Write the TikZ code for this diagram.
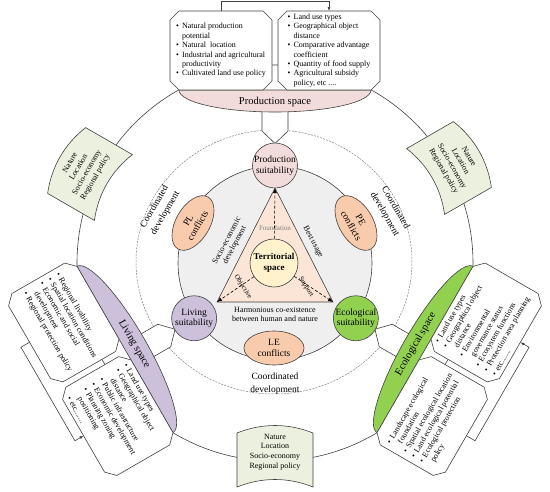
\documentclass[tikz,border=0pt]{standalone}
\usepackage{fontspec}
\setmainfont{Liberation Serif}
\usetikzlibrary{shapes.geometric,arrows.meta,calc}
\definecolor{lc}{HTML}{404040}
\definecolor{prodc}{HTML}{F2DCDB}
\definecolor{livc}{HTML}{CCC0DA}
\definecolor{ecoc}{HTML}{92D050}
\definecolor{confc}{HTML}{F8CBAD}
\definecolor{tric}{HTML}{FBE5D6}
\definecolor{terrc}{HTML}{FFF2CC}
\definecolor{grayc}{HTML}{EFEFEF}
\definecolor{paperc}{HTML}{EBF1DE}
\newcommand\octbox[4]{(#1+9,#2)--(#3-9,#2)--(#3,#2+9)--(#3,#4-9)--(#3-9,#4)--(#1+9,#4)--(#1,#4-9)--(#1,#2+9)--cycle}
\newcommand\paperpath{(-38,-27) -- (-38,27) .. controls (-13,37) and (13,37) .. (38,27) -- (38,-27) .. controls (13,-17) and (-13,-17) .. (-38,-27) -- cycle}
\newcommand\bu{\makebox[6pt][l]{\textbullet}}
\newcommand\hi{\hspace*{6pt}}
\begin{document}
\begin{tikzpicture}[x=1pt,y=1pt,
 ln/.style={draw=lc,line width=0.6pt},
 arr/.style={-{Latex[length=4pt,width=3pt]}},
 boxtxt/.style={align=left,font=\fontsize{8}{9.4}\selectfont,inner sep=0pt},
 spacetxt/.style={font=\fontsize{10.5}{12}\selectfont,inner sep=0pt},
 papertxt/.style={align=center,font=\fontsize{8}{9.7}\selectfont,inner sep=0pt},
 suit/.style={circle,draw=lc,line width=0.6pt,minimum size=45pt,inner sep=0pt},
 suittxt/.style={align=center,font=\fontsize{9.5}{10.5}\selectfont,inner sep=0pt},
 conf/.style={ellipse,draw=lc,line width=0.6pt,fill=confc,minimum width=60pt,minimum height=34pt,inner sep=0pt,align=center,font=\fontsize{9.5}{11}\selectfont},
 coordtxt/.style={align=center,font=\fontsize{9.5}{12.5}\selectfont,inner sep=0pt},
 small/.style={align=center,font=\fontsize{8}{9}\selectfont,inner sep=0pt},
 dasharr/.style={draw=black,line width=0.6pt,dash pattern=on 3pt off 2pt,-{Latex[length=5pt,width=4pt]}},
 dashring/.style={draw=gray,line width=0.5pt,dash pattern=on 2pt off 1.2pt}
]
\useasboundingbox (0,0) rectangle (550,-491);

% outer circle and dashed ring
\draw[ln] (275,-263) circle[radius=198];
\draw[dashring] (274,-262) ellipse[x radius=138,y radius=132];

% papers
\begin{scope}[shift={(275,-460)}]
 \filldraw[ln,fill=paperc] \paperpath;
 \node[papertxt] (pbot) at (0,8) {Nature\\Location\\Socio-economy\\Regional policy};
\end{scope}
\begin{scope}[shift={(90,-174)},rotate=60,transform shape]
 \filldraw[ln,fill=paperc] \paperpath;
 \node[papertxt] (pleft) at (0,8) {Nature\\Location\\Socio-economy\\Regional policy};
\end{scope}
\begin{scope}[shift={(449,-168)},rotate=-60,transform shape]
 \filldraw[ln,fill=paperc] \paperpath;
 \node[papertxt] (pright) at (0,8) {Nature\\Location\\Socio-economy\\Regional policy};
\end{scope}

% production group
\begin{scope}[shift={(275,-90)}]
 \coordinate (Pc) at (0,-75.5);
 \fill[white] (-13,-15) -- (-13,-41) -- (0,-53.5) -- (13,-41) -- (13,-15) -- cycle;
 \draw[ln] (-13,-15) -- (-13,-41) -- (0,-53.5) -- (13,-41) -- (13,-15);
 \filldraw[ln,fill=prodc] (-96,0) arc[start angle=180,end angle=360,x radius=96,y radius=22] -- cycle;
 \node[spacetxt] (pst) at (0,-11.5) {Production space};
 \filldraw[ln,fill=white] \octbox{-105}{0}{-3}{79};
 \filldraw[ln,fill=white] \octbox{3}{0}{105}{79};
 \node[boxtxt] (pb1) at (-54,39.5) {\bu Natural production\\\hi potential\\\bu Natural\ \ location\\\bu Industrial and agricultural\\\hi productivity\\\bu Cultivated land use policy};
 \node[boxtxt] (pb2) at (54,39.5) {\bu Land use types\\\bu Geographical object\\\hi distance\\\bu Comparative advantage\\\hi coefficient\\\bu Quantity of food supply\\\bu Agricultural subsidy\\\hi policy, etc ....};
 \coordinate (pa1) at (-54,79);
 \coordinate (pa2) at (54,79);
 \draw[ln,arr] (pa1) -- ++(0,10) -- ++(108,0) -- (pa2);
\end{scope}

% living group
\begin{scope}[shift={(125,-349.5)},rotate=-60,transform shape]
 \coordinate (Lc) at (7.5,75.5);
 \fill[white] (-5.5,15) -- (-5.5,41) -- (7.5,53.5) -- (20.5,41) -- (20.5,15) -- cycle;
 \draw[ln] (-5.5,15) -- (-5.5,41) -- (7.5,53.5) -- (20.5,41) -- (20.5,15);
 \filldraw[ln,fill=livc] (-96,0) arc[start angle=180,end angle=0,x radius=96,y radius=22] -- cycle;
 \node[spacetxt] (lst) at (0,10.5) {Living space};
 \filldraw[ln,fill=white] \octbox{-105}{-79}{-3}{0};
 \filldraw[ln,fill=white] \octbox{3}{-79}{105}{0};
 \node[boxtxt] (lb1) at (-54,-39.5) {\bu Regional livability\\\bu Spatial location conditions\\\bu Economic and social\\\hi development\\\bu Regional protection policy};
 \node[boxtxt] (lb2) at (54,-39.5) {\bu Land use types\\\bu Geographical object\\\hi distance\\\bu Public infrastructure\\\bu Economic development\\\bu Planning zoning\\\hi positioning\\\bu etc.......};
 \coordinate (la1) at (-54,-79);
 \coordinate (la2) at (54,-79);
 \draw[ln,arr] (la1) -- ++(0,-10) -- ++(108,0) -- (la2);
\end{scope}

% ecological group
\begin{scope}[shift={(425,-349.5)},rotate=60,transform shape]
 \coordinate (Ec) at (-7.5,75.5);
 \fill[white] (-20.5,15) -- (-20.5,41) -- (-7.5,53.5) -- (5.5,41) -- (5.5,15) -- cycle;
 \draw[ln] (-20.5,15) -- (-20.5,41) -- (-7.5,53.5) -- (5.5,41) -- (5.5,15);
 \filldraw[ln,fill=ecoc] (-96,0) arc[start angle=180,end angle=0,x radius=96,y radius=22] -- cycle;
 \node[spacetxt] (est) at (0,10.5) {Ecological space};
 \filldraw[ln,fill=white] \octbox{-105}{-79}{-3}{0};
 \filldraw[ln,fill=white] \octbox{3}{-79}{105}{0};
 \node[boxtxt] (eb1) at (-54,-39.5) {\bu Landscape ecological\\\hi foundation\\\bu Spatial ecological location\\\bu Land ecological potential\\\bu Ecological protection\\\hi policy};
 \node[boxtxt] (eb2) at (54,-39.5) {\bu Land use types\\\bu Geographical object\\\hi distance\\\bu Environmental\\\hi governance status\\\bu Ecosystem functions\\\bu Protection area planning\\\bu etc.......};
 \coordinate (ea1) at (-54,-79);
 \coordinate (ea2) at (54,-79);
 \draw[ln,arr] (ea1) -- ++(0,-10) -- ++(108,0) -- (ea2);
\end{scope}

% inner gray disc
\filldraw[ln,fill=grayc] (275,-263) circle[radius=97];

% triangle
\coordinate (va) at (275,-188);
\coordinate (vl) at (217,-302);
\coordinate (vr) at (333,-302);
\filldraw[ln,fill=tric] (va) -- (vl) -- (vr) -- cycle;

% conflicts
\node[conf,rotate=60] (pl) at (193,-223) {PL\\conflicts};
\node[conf,rotate=-60] (pe) at (356,-223) {PE\\conflicts};
\node[conf] (le) at (274,-348) {LE\\conflicts};

% coordinated development labels
\node[coordtxt,rotate=60] (cdl) at (160,-210) {Coordinated\\development};
\node[coordtxt,rotate=-60] (cdr) at (390,-211) {Coordinated\\development};
\node[coordtxt] (cdb) at (275,-383.5) {Coordinated\\development};

% territorial space
\node[circle,draw=lc,line width=0.6pt,fill=terrc,minimum size=48pt,inner sep=0pt,align=center,font=\bfseries\fontsize{9}{10.7}\selectfont] (T) at (274,-263) {Territorial\\space};
\draw[dasharr] (T) -- (va);
\draw[dasharr] (T) -- (vl);
\draw[dasharr] (T) -- (vr);

% triangle labels
\node[small,text=gray,font=\fontsize{7}{8}\selectfont] (fnd) at (275,-228) {Foundation};
\node[small,rotate=62] (soc) at (231,-243) {Socio-economic\\development};
\node[small,rotate=-62] (bu) at (313,-242) {Best usage};
\node[small,rotate=-58,font=\fontsize{7}{8}\selectfont] (obj) at (243,-287) {Objective};
\node[small,rotate=-58,font=\fontsize{7}{8}\selectfont] (sup) at (306,-287) {Support};
\node[small] (harm) at (275,-314.5) {Harmonious co-existence\\between human and nature};

% suitability circles
\node[suit,fill=prodc] (ps) at (Pc) {};
\node[suittxt] (pst2) at (Pc) {Production\\suitability};
\node[suit,fill=livc] (ls) at (Lc) {};
\node[suittxt] (lst2) at (Lc) {Living\\suitability};
\node[suit,fill=ecoc] (es) at (Ec) {};
\node[suittxt] (est2) at (Ec) {Ecological\\suitability};
\end{tikzpicture}
\end{document}
